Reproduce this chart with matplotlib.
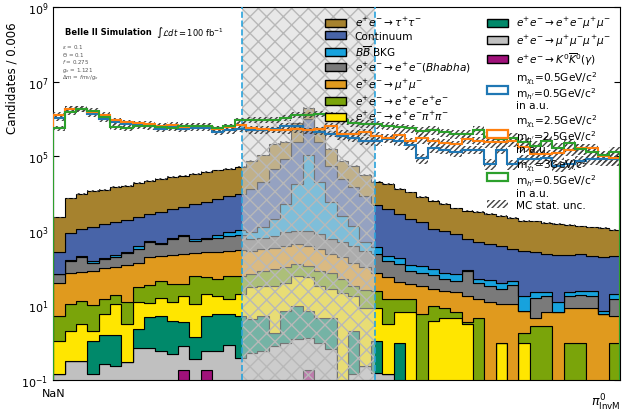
import numpy as np
import matplotlib
matplotlib.use("Agg")
import matplotlib.pyplot as plt
from matplotlib.patches import Patch

# ---------------- data ----------------
bin_width = 0.006
n_bins = 50
x_min = 0.0
signal_window = (0.10, 0.17)

# stacked totals (candidates per bin), bottom -> top
top_kk = [0, 0, 0, 0, 0, 0, 0, 0, 0, 0, 0, 0.19, 0, 0.19, 0, 0, 0, 0, 0, 0,
          0, 0, 0.19, 0, 0, 0, 0, 0, 0, 0, 0, 0, 0, 0, 0, 0, 0, 0, 0, 0,
          0, 0, 0, 0, 0, 0, 0, 0, 0, 0]
top_4mu = [0.148, 0.324, 0.324, 0.148, 0.275, 0.234, 0.302, 0.724, 0.724, 0.589,
           0.490, 0.813, 0.355, 0.589, 0.589, 0.891, 0.398, 0.537, 0.603, 0.813,
           1.0, 1.23, 1.35, 1.0, 0.661, 0, 0.141, 0.234, 0.158, 0.141,
           0, 0, 0, 0, 0, 0, 0, 0, 0, 0, 0, 0, 0, 0, 0, 0, 0, 0, 0, 0]
top_eemumu = [0.148, 0.324, 0.324, 1.10, 1.58, 1.58, 0.302, 2.29, 4.79, 5.25,
              3.80, 3.63, 1.41, 5.25, 5.75, 5.75, 5.25, 4.27, 5.25, 1.86,
              7.08, 9.77, 7.08, 4.68, 4.68, 0, 2.04, 0.234, 1.12, 0.141,
              1.0, 0, 0, 0, 0, 0, 0, 0, 0, 0, 0, 0, 0, 0, 0, 0, 0, 0, 0, 0]
top_eepipi = [1.12, 2.09, 3.16, 2.09, 5.75, 10.7, 3.16, 12.0, 11.5, 16.2,
              12.0, 18.2, 10.7, 20.0, 18.2, 14.8, 20.0, 30.2, 33.1, 33.1,
              40.7, 61.7, 56.2, 33.1, 26.9, 21.9, 17.8, 8.71, 8.71, 3.16,
              6.46, 6.76, 0, 3.80, 4.68, 4.68, 3.09, 0, 0, 0.955,
              0, 0.955, 0, 0, 0, 0, 0, 0, 0, 0]
top_eeee = [5.25, 10.7, 13.2, 10.2, 15.1, 18.6, 12.3, 30.2, 34.7, 45.7,
            37.2, 37.2, 61.7, 56.2, 50.1, 60.3, 61.7, 69.2, 85.1, 93.3,
            105, 129, 115, 85.1, 75.9, 50.1, 33.1, 25.1, 24.5, 14.8,
            14.8, 14.8, 5.75, 9.77, 8.71, 6.46, 3.55, 4.68, 0, 0.955,
            0, 1.86, 2.88, 2.88, 0, 0.955, 0.955, 0, 0, 0.955]
top_mumu = [39.8, 75.9, 79.4, 85.1, 97.7, 105, 120, 141, 204, 214,
            224, 240, 251, 263, 263, 295, 309, 295, 324, 355,
            398, 437, 398, 324, 240, 195, 141, 105, 75.9, 56.2,
            42.7, 37.2, 33.9, 28.2, 24.5, 22.4, 18.2, 14.8, 12.0, 10.7,
            10.7, 7.08, 4.68, 6.46, 6.46, 8.71, 8.71, 8.71, 5.75, 5.25]
top_bhabha = [69.2, 158, 204, 141, 174, 204, 251, 324, 513, 447,
              603, 741, 537, 603, 631, 741, 776, 603, 661, 741,
              912, 1000, 1000, 813, 603, 490, 398, 288, 240, 158,
              129, 85.1, 75.9, 64.6, 50.1, 45.7, 85.1, 40.7, 33.9, 27.5,
              34.7, 7.08, 16.2, 18.2, 6.46, 18.2, 18.6, 18.2, 5.75, 14.8]
top_bbbar = [69.2, 162, 209, 158, 186, 219, 275, 380, 525, 479,
             631, 759, 603, 661, 759, 933, 1070, 912, 1230, 2040,
             5250, 18200, 105000, 20000, 5750, 2510, 1380, 490, 363, 214,
             182, 120, 112, 93.3, 75.9, 69.2, 89.1, 52.5, 49.0, 39.8,
             45.7, 17.4, 22.4, 22.4, 12.6, 22.4, 24.5, 24.5, 7.08, 20.0]
top_continuum = [263, 871, 1120, 1230, 1510, 1700, 2000, 2290, 2820, 3240,
                 3890, 4470, 5250, 6030, 7080, 8510, 9770, 13200, 20000, 45700,
                 85100, 240000, 1000000, 240000, 56200, 24500, 14800, 8710, 5010, 3890,
                 2820, 2090, 1700, 1120, 1000, 813, 603, 490, 447, 380,
                 324, 295, 263, 240, 224, 224, 240, 214, 204, 214]
top_tautau = [2290, 7410, 9770, 11500, 12600, 14800, 16200, 19100, 21400, 24500,
              27500, 30200, 33900, 37200, 41700, 45700, 52500, 75900, 105000, 214000,
              240000, 794000, 1950000, 562000, 158000, 75900, 56200, 31600, 20900, 18200,
              13200, 10700, 7940, 6460, 5250, 3980, 3470, 3160, 2820, 2450,
              2190, 1860, 1780, 1620, 1510, 1450, 1320, 1230, 1170, 1070]

# signal shapes (a.u.)
sig_05 = [1.05e6, 1.86e6, 1.86e6, 1.38e6, 1.0e6, 8.13e5, 7.41e5, 6.92e5, 6.31e5, 5.37e5,
          6.03e5, 5.37e5, 5.62e5, 5.62e5, 4.57e5, 4.90e5, 5.37e5, 4.90e5, 4.90e5, 5.25e5,
          6.61e5, 6.61e5, 4.90e5, 4.47e5, 3.98e5, 3.55e5, 3.16e5, 2.63e5, 2.51e5, 2.88e5,
          2.51e5, 2.0e5, 8.91e4, 1.66e5, 1.51e5, 1.26e5, 1.51e5, 1.51e5, 6.31e4, 1.51e5,
          6.03e4, 8.32e4, 8.32e4, 8.91e4, 5.62e4, 6.31e4, 7.59e4, 8.32e4, 8.32e4, 8.32e4]
sig_25 = [1.29e6, 1.86e6, 1.86e6, 1.51e6, 1.29e6, 9.12e5, 8.13e5, 7.59e5, 7.41e5, 6.61e5,
          6.92e5, 6.03e5, 6.61e5, 6.61e5, 5.37e5, 6.03e5, 6.92e5, 5.62e5, 5.37e5, 5.13e5,
          4.90e5, 5.25e5, 4.90e5, 5.25e5, 6.61e5, 3.98e5, 3.98e5, 4.47e5, 3.55e5, 3.16e5,
          3.80e5, 2.51e5, 3.02e5, 2.51e5, 2.24e5, 2.09e5, 2.82e5, 2.63e5, 2.40e5, 2.40e5,
          2.51e5, 1.78e5, 1.12e5, 1.12e5, 1.20e5, 1.51e5, 1.66e5, 1.66e5, 1.0e5, 8.91e4]
sig_30 = [5.62e5, 1.51e6, 1.86e6, 1.66e6, 1.12e6, 6.03e5, 5.62e5, 6.61e5, 6.61e5, 6.03e5,
          5.62e5, 6.61e5, 6.61e5, 6.61e5, 5.62e5, 6.31e5, 9.12e5, 9.55e5, 9.55e5, 9.55e5,
          1.05e6, 1.29e6, 1.29e6, 1.38e6, 1.29e6, 9.12e5, 7.94e5, 7.41e5, 7.08e5, 6.61e5,
          6.03e5, 5.62e5, 4.79e5, 5.01e5, 4.37e5, 3.98e5, 3.98e5, 5.01e5, 3.31e5, 2.95e5,
          3.16e5, 2.40e5, 1.91e5, 2.63e5, 1.66e5, 2.24e5, 1.58e5, 1.32e5, 1.05e5, 1.32e5]
# relative MC statistical uncertainty of the signal shapes
sig_rel_unc = [0.22, 0.2, 0.2, 0.2, 0.2, 0.22, 0.22, 0.22, 0.22, 0.22,
               0.22, 0.22, 0.22, 0.22, 0.22, 0.22, 0.22, 0.22, 0.22, 0.22,
               0.22, 0.22, 0.22, 0.22, 0.25, 0.3, 0.3, 0.3, 0.3, 0.3,
               0.3, 0.35, 0.4, 0.35, 0.35, 0.35, 0.35, 0.35, 0.45, 0.35,
               0.45, 0.4, 0.45, 0.45, 0.5, 0.45, 0.45, 0.45, 0.5, 0.5]
bkg_rel_unc = 0.05

labels_stack = [r'$e^{+}e^{-}\rightarrow\tau^{+}\tau^{-}$', 'Continuum', r'$B\overline{B}$ BKG',
                r'$e^{+}e^{-}\rightarrow e^{+}e^{-}(Bhabha)$', r'$e^{+}e^{-}\rightarrow\mu^{+}\mu^{-}$',
                r'$e^{+}e^{-}\rightarrow e^{+}e^{-}e^{+}e^{-}$', r'$e^{+}e^{-}\rightarrow e^{+}e^{-}\pi^{+}\pi^{-}$',
                r'$e^{+}e^{-}\rightarrow e^{+}e^{-}\mu^{+}\mu^{-}$', r'$e^{+}e^{-}\rightarrow\mu^{+}\mu^{-}\mu^{+}\mu^{-}$',
                r'$e^{+}e^{-}\rightarrow K^{0}\overline{K}^{0}(\gamma)$']
colors_stack = ['#a6822e', '#4864a8', '#17a2dd', '#7a7a7a', '#e09a1e',
                '#7aa40a', '#ffe600', '#00896a', '#c0c0c0', '#a0117a']
sig_labels = ['m$_{\\chi_1}$=0.5GeV/c$^2$\nm$_{h\'}$=0.5GeV/c$^2$\nin a.u.',
              'm$_{\\chi_1}$=2.5GeV/c$^2$\nm$_{h\'}$=2.5GeV/c$^2$\nin a.u.',
              'm$_{\\chi_1}$=3GeV/c$^2$\nm$_{h\'}$=0.5GeV/c$^2$\nin a.u.']
sig_colors = ['#1f77b4', '#ff7f0e', '#2ca02c']

# ---------------- plot ----------------
edges = x_min + bin_width * np.arange(n_bins + 1)
fig = plt.figure(figsize=(6.23, 4.14), dpi=100)
ax = fig.add_axes([53.3 / 623, 1 - 381 / 414, 567 / 623, 373 / 414])
ax.set_yscale('log')

floor = 1e-3
stack_tops = [top_kk, top_4mu, top_eemumu, top_eepipi, top_eeee, top_mumu,
              top_bhabha, top_bbbar, top_continuum, top_tautau]
stack_cols = colors_stack[::-1]
prev = np.full(n_bins, floor)
for top, c in zip(stack_tops, stack_cols):
    t = np.maximum(np.asarray(top, float), floor)
    ax.stairs(t, edges, baseline=prev, fill=True, facecolor=c, edgecolor='k',
              linewidth=0.8, zorder=2)
    prev = t

tot = np.asarray(top_tautau, float)
ax.bar(edges[:-1], 2 * bkg_rel_unc * tot, bottom=tot * (1 - bkg_rel_unc), width=bin_width,
       align='edge', facecolor='none', edgecolor='#444444', hatch='//////', linewidth=0,
       zorder=2.2)

# signal window overlay
ax.axvspan(*signal_window, facecolor=(0.84, 0.84, 0.84, 0.55), edgecolor=(0.72, 0.72, 0.72),
           hatch='xx', linewidth=0, zorder=2.5)
for xv in signal_window:
    ax.axvline(xv, color='#29a3dc', ls='--', lw=1.2, zorder=2.6)

rel = np.asarray(sig_rel_unc)
for s in [sig_05, sig_25, sig_30]:
    s = np.asarray(s, float)
    ax.bar(edges[:-1], 2 * rel * s / (1 + rel), bottom=s / (1 + rel), width=bin_width,
           align='edge', facecolor='none', edgecolor='#444444', hatch='//////', linewidth=0,
           zorder=3)
for s, c in zip([sig_05, sig_25, sig_30], sig_colors):
    ax.stairs(s, edges, baseline=floor, fill=False, color=c, linewidth=1.5, zorder=4)

ax.set_xlim(edges[0], edges[-1])
ax.set_ylim(1e-1, 1e9)
ax.set_yticks([1e-1, 1e1, 1e3, 1e5, 1e7, 1e9])
ax.minorticks_off()
ax.set_xticks([0.0])
ax.set_xticklabels(['NaN'])
ax.tick_params(axis='both', direction='in', labelsize=8, right=True, top=False, length=4)
ax.tick_params(axis='x', pad=6)
ax.set_ylabel('Candidates / 0.006', fontsize=8.5, ha='right')
ax.yaxis.set_label_coords(-0.062, 0.962)
ax.set_xlabel(r'$\pi^0_{\mathrm{InvM}}$', fontsize=9, ha='right', va='center')
ax.xaxis.set_label_coords(1.0, -0.06)

ax.text(0.021, 0.934, 'Belle II Simulation', transform=ax.transAxes, fontsize=6.0,
        fontweight='bold', va='center', zorder=6)
ax.text(0.181, 0.934, r'$\int\mathcal{L}dt = 100$ fb$^{-1}$', transform=ax.transAxes,
        fontsize=6.0, va='center', zorder=6)
params = [r'$\varepsilon$ = 0.1', r'$\Theta$ = 0.1', r'$f$ = 0.275', r'$g_x$ = 1.121',
          r'$\Delta m$ = $fm_V/g_x$']
for i, p in enumerate(params):
    ax.text(0.015, 0.895 - i * 0.0205, p, transform=ax.transAxes, fontsize=4.0,
            color='#555555', va='center', zorder=6)

handles = [Patch(facecolor=c, edgecolor='k', linewidth=1.0) for c in colors_stack]
handles += [Patch(facecolor='white', edgecolor=c, linewidth=1.6) for c in sig_colors]
handles.append(Patch(facecolor='white', edgecolor='#444444', hatch='//////', linewidth=0))
labels = labels_stack + sig_labels + ['MC stat. unc.']
leg = ax.legend(handles, labels, ncol=2, frameon=False, fontsize=7.6,
                loc='upper left', bbox_to_anchor=(320 / 623, 1 - 11 / 414),
                bbox_transform=fig.transFigure, handlelength=2.0, handleheight=0.75,
                labelspacing=0.22, columnspacing=1.5, borderpad=0, handletextpad=0.8)
for t in leg.get_texts()[10:13]:
    t.set_linespacing(0.95)
leg.set_zorder(10)

fig.savefig('out.png', dpi=100)
